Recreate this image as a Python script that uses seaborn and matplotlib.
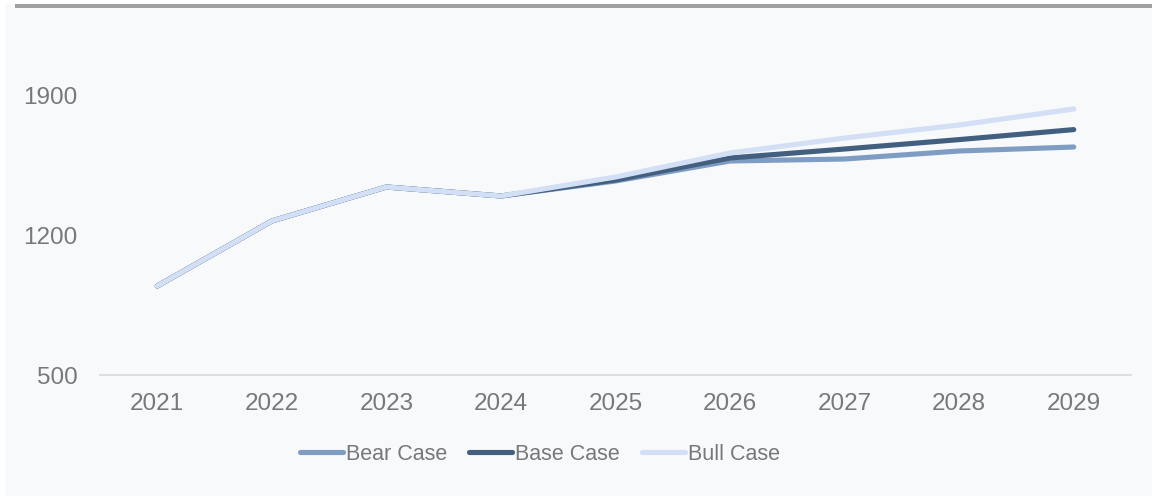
import matplotlib
matplotlib.use("Agg")
import matplotlib.pyplot as plt
from matplotlib.patches import Rectangle
import pandas as pd
import seaborn as sns

years = ["2021", "2022", "2023", "2024", "2025", "2026", "2027", "2028", "2029"]
bear_case = [945, 1270, 1440, 1395, 1470, 1570, 1580, 1620, 1640]
base_case = [945, 1270, 1440, 1395, 1475, 1585, 1630, 1677, 1727]
bull_case = [945, 1270, 1440, 1395, 1490, 1610, 1685, 1750, 1830]
series_names = ["Bear Case", "Base Case", "Bull Case"]
series_colors = ["#7f9cc2", "#435f80", "#d3dff4"]
y_ticks = [500, 1200, 1900]

df = pd.concat([
    pd.DataFrame({"year": years, "value": vals, "case": name})
    for name, vals in zip(series_names, [bear_case, base_case, bull_case])
])

sns.set_theme(style="white")
plt.rcParams["font.family"] = ["Liberation Sans", "DejaVu Sans"]
text_color = "#787878"
panel = "#f8f9fb"

fig = plt.figure(figsize=(11.52, 4.97), dpi=100, facecolor="white")
fig.patches.append(Rectangle((5 / 1152, 1 / 497), 1 - 5 / 1152, 1 - 5 / 497,
                             transform=fig.transFigure, facecolor=panel,
                             edgecolor="none", zorder=-2))
fig.patches.append(Rectangle((15 / 1152, 1 - 8 / 497), 1 - 15 / 1152, 4 / 497,
                             transform=fig.transFigure, facecolor="#a0a0a0",
                             edgecolor="none", zorder=-1))

ax = fig.add_axes([100 / 1152, (497 - 375) / 497, 1031 / 1152, 340 / 497])
ax.set_facecolor(panel)
ax.patch.set_alpha(0)

sns.lineplot(data=df, x="year", y="value", hue="case", hue_order=series_names,
             palette=series_colors, linewidth=3.7, legend=False, ax=ax,
             solid_capstyle="round", solid_joinstyle="round", sort=False)

ax.set_xlim(-0.5, len(years) - 0.5)
ax.set_ylim(500, 2200)
ax.set_yticks(y_ticks)
ax.set_xlabel("")
ax.set_ylabel("")
for side in ["top", "right", "left"]:
    ax.spines[side].set_visible(False)
ax.spines["bottom"].set_color("#d9d9d9")
ax.spines["bottom"].set_linewidth(1.2)
ax.tick_params(axis="both", length=0, labelsize=17.5, colors=text_color)
ax.tick_params(axis="y", pad=16)
ax.tick_params(axis="x", pad=13)
ax.grid(False)

leg = ax.legend(handles=ax.lines[:3], labels=series_names, loc="center",
                bbox_to_anchor=(540 / 1152, 1 - 454 / 497),
                bbox_transform=fig.transFigure, ncol=3, frameon=False,
                fontsize=15.5, handlelength=2.0, handletextpad=0.15,
                columnspacing=1.0, labelcolor=text_color)

fig.savefig("out.png", dpi=100, facecolor="white")
